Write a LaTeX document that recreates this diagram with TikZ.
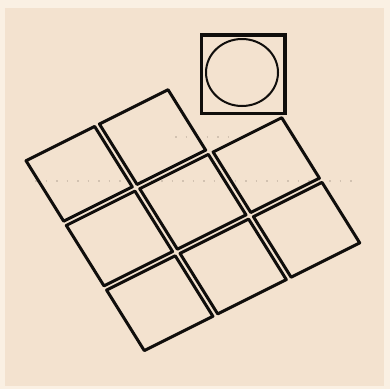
\documentclass[tikz,border=0pt]{standalone}
\usetikzlibrary{calc}
\definecolor{paperedge}{HTML}{FAF0E3}
\definecolor{paper}{HTML}{F3E2CF}
\definecolor{ink}{HTML}{100E0C}
\definecolor{speck}{HTML}{D2C2B1}
\tikzset{
  tile/.style={draw=ink, line width=3pt, line join=round},
  framebox/.style={draw=ink, line width=3.8pt, line join=miter},
  ring/.style={draw=ink, line width=2pt},
  specks/.style={draw=speck, line width=1.2pt, dash pattern=on 1.5pt off 9pt},
}
\begin{document}
\begin{tikzpicture}[x=1pt,y=-1pt]
  \useasboundingbox (0,0) rectangle (390,389);
  \fill[paperedge] (0,0) rectangle (390,389);
  \fill[paper] (5,8) rectangle (384,386);
  % faint scan specks
  \draw[specks] (35,181) -- (360,181);
  \draw[specks] (175,137) -- (235,137);
  % tilted grid of tiles
  \begin{scope}[shift={(26,160.7)}, x={(73.4pt,36.7pt)}, y={(40.3pt,-64.7pt)}]
    \foreach \i/\j in {0/0,1/0,0/1,1/1,2/1,0/2,1/2,2/2}{
      \draw[tile] (\i,\j) -- (\i+0.935,\j) -- (\i+0.935,\j+0.935) -- (\i,\j+0.935) -- cycle;
    }
  \end{scope}
  % separated tile with circle
  \coordinate (ringc) at (242,72.5);
  \draw[framebox] (201.5,35) rectangle (285,113.5);
  \draw[ring] (ringc) ellipse [x radius=36pt, y radius=33.5pt];
\end{tikzpicture}
\end{document}
